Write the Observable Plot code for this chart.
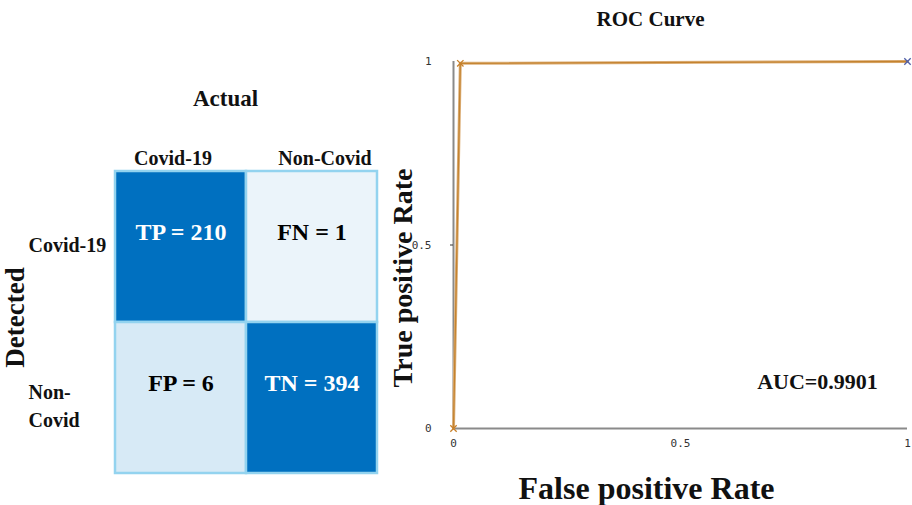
<!DOCTYPE html>
<html>
<head>
<meta charset="utf-8">
<script src="https://cdn.jsdelivr.net/npm/d3@7"></script>
<script src="https://cdn.jsdelivr.net/npm/@observablehq/plot@0.6"></script>
<style>
  html, body { margin: 0; padding: 0; background: #fff; }
  #wrap { position: relative; width: 912px; height: 505px; overflow: hidden; }
  #cm { position: absolute; left: 0; top: 0; }
  #roc { position: absolute; left: 380px; top: 0; }
</style>
</head>
<body>
<div id="wrap"><div id="cm"></div><div id="roc"></div></div>
<script>
// ---- Confusion matrix data ----
const actualCats = ["Covid-19", "Non-Covid"];
const detectedCats = ["Covid-19", "Non-Covid"];
const cellLabels = ["TP", "FN", "FP", "TN"];
const cellCounts = [210, 1, 6, 394];
const cellColors = ["#0070C0", "#EBF4FA", "#D7EAF6", "#0070C0"];

// ---- ROC data ----
const fpr = [0, 0.015, 1];
const tpr = [0, 0.995, 1];
const xTicks = [0, 0.5, 1];
const yTicks = [0, 0.5, 1];
const aucText = "AUC=0.9901";

const serif = "'Liberation Serif', 'Times New Roman', serif";
const mono = "'DejaVu Sans Mono', monospace";
const fmt = d => String(d);

const cells = cellLabels.map((l, i) => ({
  label: l,
  count: cellCounts[i],
  actual: actualCats[i % 2],
  detected: detectedCats[Math.floor(i / 2)]
}));

const cm = Plot.plot({
  width: 380, height: 505,
  marginLeft: 115, marginRight: 3, marginTop: 171, marginBottom: 32,
  style: { fontFamily: serif, background: "transparent", overflow: "visible" },
  x: { domain: actualCats, padding: 0, axis: null, label: null },
  y: { domain: detectedCats, padding: 0, axis: null, label: null },
  color: { type: "ordinal", domain: cellLabels, range: cellColors },
  marks: [
    Plot.cell(cells, { x: "actual", y: "detected", fill: "label", stroke: "#93D3EF", strokeWidth: 2.5, inset: 0 }),
    Plot.text(cells, { filter: d => d.count > 100, x: "actual", y: "detected", text: d => `${d.label} = ${d.count}`,
      dy: -15, fill: "white", fontSize: 24, fontWeight: "bold" }),
    Plot.text(cells, { filter: d => d.count <= 100, x: "actual", y: "detected", text: d => `${d.label} = ${d.count}`,
      dy: -15, fill: "black", fontSize: 24, fontWeight: "bold" }),
    Plot.axisX([actualCats[0]], { anchor: "top", label: null, tickSize: 0, tickPadding: 7, dx: -8, fontSize: 20, fontWeight: "bold", fill: "#111" }),
    Plot.axisX([actualCats[1]], { anchor: "top", label: null, tickSize: 0, tickPadding: 7, dx: 13, fontSize: 20, fontWeight: "bold", fill: "#111" }),
    Plot.axisY([detectedCats[0]], { anchor: "left", label: null, tickSize: 0, tickPadding: 87, textAnchor: "start", dy: -1,
      fontSize: 20, fontWeight: "bold", fill: "#111" }),
    Plot.axisY([detectedCats[1]], { anchor: "left", label: null, tickSize: 0, tickPadding: 87, textAnchor: "start", dy: 6,
      tickFormat: d => d.replace("-", "-\n"), lineHeight: 1.4, fontSize: 20, fontWeight: "bold", fill: "#111" }),
    Plot.text(["Actual"], { frameAnchor: "top", lineAnchor: "middle", dx: -21, dy: -73, fontSize: 23, fontWeight: "bold", fill: "#111" }),
    Plot.text(["Detected"], { frameAnchor: "left", textAnchor: "middle", lineAnchor: "middle", rotate: -90, dx: -100, dy: -5,
      fontSize: 27, fontWeight: "bold", fill: "#111" })
  ]
});
document.getElementById("cm").appendChild(cm);

const pts = fpr.map((x, i) => ({ fpr: x, tpr: tpr[i] }));

const roc = Plot.plot({
  width: 532, height: 505,
  marginLeft: 73, marginRight: 5, marginTop: 61, marginBottom: 77,
  style: { fontFamily: serif, background: "transparent", overflow: "visible" },
  x: { domain: [0, 1], axis: null, label: null },
  y: { domain: [0, 1], axis: null, label: null },
  marks: [
    Plot.ruleY([0], { stroke: "#8a8a8a", strokeWidth: 2 }),
    Plot.ruleX([0], { stroke: "#8a8a8a", strokeWidth: 2 }),
    Plot.axisY(yTicks, { label: null, tickFormat: fmt, tickSize: 0, tickPadding: 22, fontFamily: mono, fontSize: 11, fill: "#333" }),
    Plot.axisY([0.5], { label: null, tickSize: 3, text: null, stroke: "#333" }),
    Plot.axisX(xTicks, { label: null, tickFormat: fmt, tickSize: 0, tickPadding: 11, fontFamily: mono, fontSize: 11, fill: "#333" }),
    Plot.line(pts, { x: "fpr", y: "tpr", stroke: "#DDB07A", strokeWidth: 3 }),
    Plot.line(pts, { x: "fpr", y: "tpr", stroke: "#C4832F", strokeWidth: 1.3 }),
    Plot.dot(pts.slice(0, 2), { x: "fpr", y: "tpr", symbol: "times", r: 3, stroke: "#C8802A", strokeWidth: 1.3 }),
    Plot.dot(pts.slice(2), { x: "fpr", y: "tpr", symbol: "times", r: 3, stroke: "#4F5FA8", strokeWidth: 1.3 }),
    Plot.text(["ROC Curve"], { frameAnchor: "top", lineAnchor: "middle", dx: -30, dy: -42, fontSize: 21, fontWeight: "bold", fill: "#111" }),
    Plot.text(["True positive Rate"], { frameAnchor: "left", textAnchor: "middle", lineAnchor: "middle", rotate: -90, dx: -50, dy: 33,
      fontSize: 28, fontWeight: "bold", fill: "#111" }),
    Plot.text(["False positive Rate"], { frameAnchor: "bottom", lineAnchor: "middle", dx: -34, dy: 60, fontSize: 32, fontWeight: "bold", fill: "#111" }),
    Plot.text([aucText], { frameAnchor: "bottom-right", textAnchor: "middle", lineAnchor: "middle", dx: -90, dy: -47,
      fontSize: 22, fontWeight: "bold", fill: "#111" })
  ]
});
document.getElementById("roc").appendChild(roc);
</script>
</body>
</html>
